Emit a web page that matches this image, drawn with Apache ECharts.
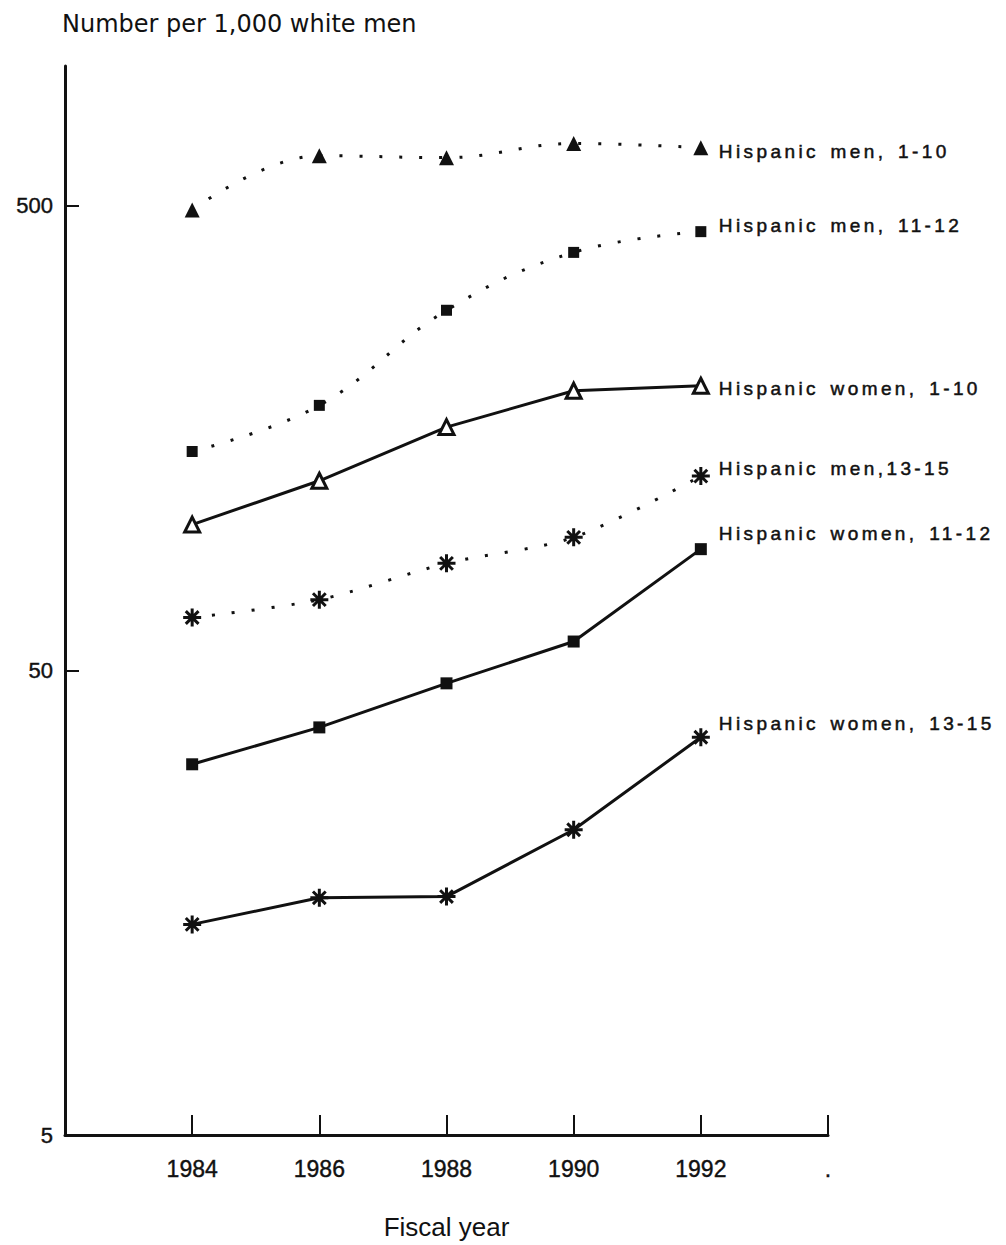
<!DOCTYPE html>
<html>
<head>
<meta charset="utf-8">
<script src="https://cdn.jsdelivr.net/npm/echarts@6/dist/echarts.min.js"></script>
<style>
  html, body { margin: 0; padding: 0; background: #fff; }
  #chart { width: 1006px; height: 1245px; }
  /* series end labels are set in a tracked, wide type */
  #chart text[style*="Verdana"] { letter-spacing: 3.4px; word-spacing: 3px; }
</style>
</head>
<body>
<div id="chart"></div>
<script>
// Fiscal years on the horizontal axis
const years = [1984, 1986, 1988, 1990, 1992];
const yearLabels = ['1984', '1986', '1988', '1990', '1992'];

// Number per 1,000 white men, by group and grade band
const menOneTen = [490, 641, 635, 681, 667];
const menElevenTwelve = [148, 186, 298, 397, 440];
const womenOneTen = [103, 128, 167, 200, 205];
const menThirteenFifteen = [65, 71, 85, 96.7, 131];
const womenElevenTwelve = [31.4, 37.7, 46.9, 57.7, 91.2];
const womenThirteenFifteen = [14.2, 16.2, 16.3, 22.7, 35.9];

const yTickValues = [5, 50, 500];

const INK = '#111';
const ASTERISK = 'path://M8.5 1L11.5 1L11.5 19L8.5 19Z M19 8.5L19 11.5L1 11.5L1 8.5Z ' +
  'M15.303 2.575L17.425 4.697L4.697 17.425L2.575 15.303Z ' +
  'M2.575 4.697L4.697 2.575L17.425 15.303L15.303 17.425Z';

function pairs(vals) { return years.map((y, i) => [y, vals[i]]); }

function makeSeries(name, vals, opts) {
  return {
    name: name,
    type: 'line',
    data: pairs(vals),
    smooth: opts.dotted ? opts.smooth : false,
    symbol: opts.symbol,
    symbolSize: opts.size,
    itemStyle: opts.itemStyle,
    lineStyle: opts.dotted
      ? { color: INK, width: 3, type: [3, 17], cap: 'butt' }
      : { color: INK, width: 3 },
    endLabel: {
      show: true,
      formatter: '{a}',
      distance: 18,
      offset: [0, opts.dy],
      color: INK,
      fontSize: 19,
      fontFamily: "'Liberation Sans', Verdana",
      textBorderColor: INK,
      textBorderWidth: 0.5
    },
    emphasis: { disabled: true },
    animation: false,
    z: 3
  };
}

const solidBlack = { color: INK, borderColor: INK, borderWidth: 0 };
const hollowTri = { color: '#fff', borderColor: INK, borderWidth: 3 };

const chart = echarts.init(document.getElementById('chart'), null, { renderer: 'svg' });
chart.setOption({
  backgroundColor: '#fff',
  animation: false,
  title: {
    text: 'Number per 1,000 white men',
    left: 57,
    top: 7,
    textStyle: { color: INK, fontSize: 24, fontWeight: 'normal', fontFamily: "'DejaVu Sans'" }
  },
  grid: { left: 65, right: 178, top: 66, bottom: 110, containLabel: false, outerBoundsMode: 'none' },
  xAxis: {
    type: 'value',
    min: 1982,
    max: 1994,
    interval: 2,
    name: 'Fiscal year',
    nameLocation: 'middle',
    nameGap: 79,
    nameTextStyle: { color: INK, fontSize: 26, fontFamily: "'Liberation Sans'" },
    axisLine: { show: true, onZero: false, lineStyle: { color: INK, width: 3 } },
    axisTick: { show: true, inside: true, length: 20, lineStyle: { color: INK, width: 2 } },
    splitLine: { show: false },
    axisLabel: {
      color: INK,
      fontSize: 23,
      margin: 22,
      fontFamily: "'Liberation Sans'",
      textBorderColor: INK,
      textBorderWidth: 0.4,
      formatter: function (v) {
        const i = years.indexOf(v);
        if (i >= 0) return yearLabels[i];
        return v === 1994 ? '.' : '';
      }
    }
  },
  yAxis: {
    type: 'log',
    logBase: 10,
    min: 5,
    max: 1000,
    axisLine: { show: true, onZero: false, lineStyle: { color: INK, width: 3 } },
    axisTick: { show: true, inside: true, length: 14, customValues: yTickValues, lineStyle: { color: INK, width: 2 } },
    splitLine: { show: false },
    minorTick: { show: false },
    axisLabel: {
      color: INK,
      fontSize: 22,
      margin: 12,
      customValues: yTickValues,
      fontFamily: "'Liberation Sans'",
      textBorderColor: INK,
      textBorderWidth: 0.4,
      formatter: function (v) { return String(Math.round(v)); }
    }
  },
  series: [
    makeSeries('Hispanic men, 1-10', menOneTen,
      { dotted: true, smooth: 0.4, symbol: 'triangle', size: 15, itemStyle: solidBlack, dy: 4 }),
    makeSeries('Hispanic men, 11-12', menElevenTwelve,
      { dotted: true, smooth: 0.4, symbol: 'rect', size: 11, itemStyle: solidBlack, dy: -6 }),
    makeSeries('Hispanic women, 1-10', womenOneTen,
      { dotted: false, symbol: 'triangle', size: 15, itemStyle: hollowTri, dy: 3 }),
    makeSeries('Hispanic men,13-15', menThirteenFifteen,
      { dotted: true, smooth: 0.3, symbol: ASTERISK, size: 18, itemStyle: solidBlack, dy: -8 }),
    makeSeries('Hispanic women, 11-12', womenElevenTwelve,
      { dotted: false, symbol: 'rect', size: 12, itemStyle: solidBlack, dy: -16 }),
    makeSeries('Hispanic women, 13-15', womenThirteenFifteen,
      { dotted: false, symbol: ASTERISK, size: 18, itemStyle: solidBlack, dy: -14 })
  ]
});
</script>
</body>
</html>
